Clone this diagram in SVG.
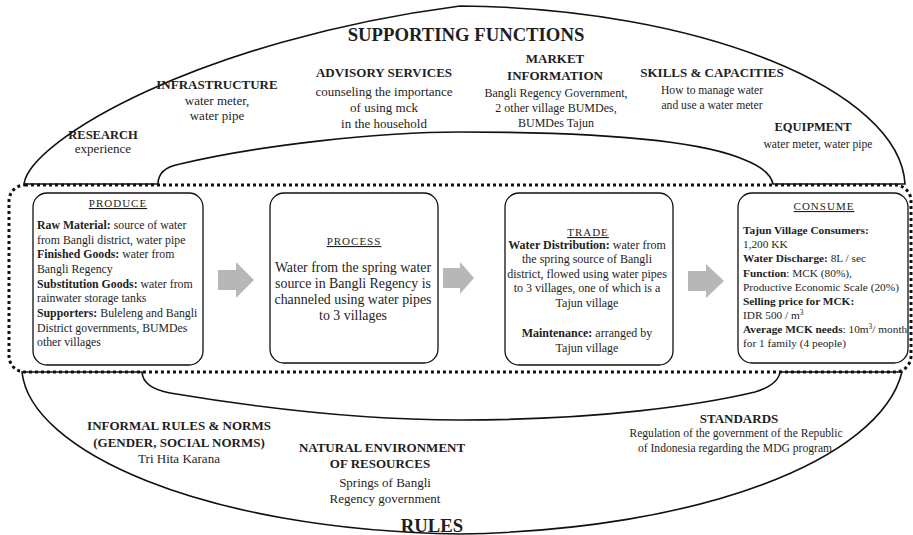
<svg xmlns="http://www.w3.org/2000/svg" width="913" height="535" viewBox="0 0 913 535">
  <style>
    text { font-family: "Liberation Serif", "Times New Roman", serif; fill: #1e1e1e; }
    .big { font-size: 18.7px; font-weight: bold; text-anchor: middle; }
    .h { font-size: 13px; font-weight: bold; text-anchor: middle; }
    .c { font-size: 12px; text-anchor: middle; }
    .c13 { font-size: 13px; text-anchor: middle; }
    .s { font-size: 11.6px; text-anchor: middle; }
    .title { font-size: 11px; letter-spacing: 1px; text-anchor: middle; text-decoration: underline; }
    .b { font-weight: bold; }
    .outline { fill: none; stroke: #111; stroke-width: 1.6; }
    .box { fill: #fff; stroke: #111; stroke-width: 1.3; }
    .chain { fill: none; stroke: #111; stroke-width: 3; stroke-dasharray: 3 3; }
    .arrow { fill: #b7b7b7; }
  </style>

  <!-- Supporting functions band -->
  <g id="supporting-functions">
    <path class="outline" d="M 24 184 C 30 140, 200 40, 460 6 C 700 8, 900 90, 905 184 L 773 184 Q 770 170, 745 160 C 700 140, 600 132, 460 132 C 380 132, 260 145, 180 164 Q 158 168, 158 184 Z"/>
    <text class="big" x="466" y="41">SUPPORTING FUNCTIONS</text>
    <text class="h" x="103" y="139" style="font-size:12.5px">RESEARCH</text>
    <text class="c13" x="103" y="153">experience</text>
    <text class="h" x="217" y="89">INFRASTRUCTURE</text>
    <text class="c13" x="217" y="105">water meter,</text>
    <text class="c13" x="217" y="120">water pipe</text>
    <text class="h" x="384" y="77">ADVISORY SERVICES</text>
    <text class="c13" x="384" y="96">counseling the importance</text>
    <text class="c13" x="384" y="112">of using mck</text>
    <text class="c13" x="384" y="128">in the household</text>
    <text class="h" x="555" y="63">MARKET</text>
    <text class="h" x="555" y="80">INFORMATION</text>
    <text class="c" x="556" y="97">Bangli Regency Government,</text>
    <text class="c" x="556" y="112">2 other village BUMDes,</text>
    <text class="c" x="556" y="127">BUMDes Tajun</text>
    <text class="h" x="712" y="77">SKILLS &amp; CAPACITIES</text>
    <text class="s" x="712" y="94">How to manage water</text>
    <text class="s" x="712" y="109">and use a water meter</text>
    <text class="h" x="813" y="131" style="font-size:12.5px">EQUIPMENT</text>
    <text class="s" x="818" y="148">water meter, water pipe</text>
  </g>

  <!-- Rules band -->
  <g id="rules">
    <path class="outline" d="M 22 372 C 30 450, 200 530, 460 534 C 700 530, 880 460, 902 372 L 780 372 Q 778 385, 755 392 C 700 405, 600 420, 460 420 C 360 420, 260 408, 170 393 Q 143 388, 142 372 Z"/>
    <text class="h" x="179" y="430">INFORMAL RULES &amp; NORMS</text>
    <text class="h" x="179" y="447">(GENDER, SOCIAL NORMS)</text>
    <text class="c13" x="179" y="463">Tri Hita Karana</text>
    <text class="h" x="382" y="452">NATURAL ENVIRONMENT</text>
    <text class="h" x="380" y="468">OF RESOURCES</text>
    <text class="c13" x="385" y="487">Springs of Bangli</text>
    <text class="c13" x="385" y="503">Regency government</text>
    <text class="big" x="432" y="532">RULES</text>
    <text class="h" x="739" y="423">STANDARDS</text>
    <text class="s" x="736" y="437">Regulation of the government of the Republic</text>
    <text class="s" x="735" y="452">of Indonesia regarding the MDG program</text>
  </g>

  <!-- Value chain frame -->
  <rect class="chain" x="9" y="185" width="902" height="187" rx="16"/>

  <g id="produce">
    <rect class="box" x="33" y="193" width="170" height="172" rx="14"/>
    <text class="title" x="118" y="207">PRODUCE</text>
    <g style="font-size:11.8px">
      <text x="37" y="229"><tspan class="b">Raw Material:</tspan> source of water</text>
      <text x="37" y="244">from Bangli district, water pipe</text>
      <text x="37" y="258"><tspan class="b">Finished Goods:</tspan> water from</text>
      <text x="37" y="273">Bangli Regency</text>
      <text x="37" y="288"><tspan class="b">Substitution Goods:</tspan> water from</text>
      <text x="37" y="302">rainwater storage tanks</text>
      <text x="37" y="317"><tspan class="b">Supporters:</tspan> Buleleng and Bangli</text>
      <text x="37" y="332">District governments, BUMDes</text>
      <text x="37" y="346">other villages</text>
    </g>
  </g>

  <g id="process">
    <rect class="box" x="270" y="193" width="168" height="170" rx="14"/>
    <text class="title" x="354" y="245">PROCESS</text>
    <text class="c" x="353" y="272" style="font-size:13.9px">Water from the spring water</text>
    <text class="c" x="353" y="288" style="font-size:13.9px">source in Bangli Regency is</text>
    <text class="c" x="353" y="304" style="font-size:13.9px">channeled using water pipes</text>
    <text class="c" x="353" y="320" style="font-size:13.9px">to 3 villages</text>
  </g>

  <g id="trade">
    <rect class="box" x="505" y="193" width="168" height="172" rx="14"/>
    <text class="title" x="588" y="236">TRADE</text>
    <text class="c" x="587" y="249"><tspan class="b">Water Distribution:</tspan> water from</text>
    <text class="c" x="587" y="263">the spring source of Bangli</text>
    <text class="c" x="587" y="278">district, flowed using water pipes</text>
    <text class="c" x="587" y="292">to 3 villages, one of which is a</text>
    <text class="c" x="587" y="307">Tajun village</text>
    <text class="c" x="587" y="337"><tspan class="b">Maintenance:</tspan> arranged by</text>
    <text class="c" x="587" y="352">Tajun village</text>
  </g>

  <g id="consume">
    <rect class="box" x="738" y="193" width="170" height="170" rx="14"/>
    <text class="title" x="824" y="210">CONSUME</text>
    <g style="font-size:11.3px">
      <text x="743" y="234" class="b">Tajun Village Consumers:</text>
      <text x="743" y="248">1,200 KK</text>
      <text x="743" y="262"><tspan class="b">Water Discharge:</tspan> 8L / sec</text>
      <text x="743" y="277"><tspan class="b">Function</tspan>: MCK (80%),</text>
      <text x="743" y="291">Productive Economic Scale (20%)</text>
      <text x="743" y="305" class="b">Selling price for MCK:</text>
      <text x="743" y="319">IDR 500 / m<tspan dy="-4" style="font-size:7.5px">3</tspan></text>
      <text x="743" y="333"><tspan class="b">Average MCK needs</tspan>: 10m<tspan dy="-4" style="font-size:7.5px">3</tspan><tspan dy="4">/ month</tspan></text>
      <text x="743" y="347">for 1 family (4 people)</text>
    </g>
  </g>

  <!-- Flow arrows between stages -->
  <g id="connectors">
    <polygon class="arrow" points="218,270 236,270 236,262 254,280 236,298 236,290 218,290"/>
    <polygon class="arrow" points="443,268 460,268 460,262 474,278 460,294 460,288 443,288"/>
    <polygon class="arrow" points="688,271 706,271 706,264 724,281 706,298 706,291 688,291"/>
  </g>
</svg>
